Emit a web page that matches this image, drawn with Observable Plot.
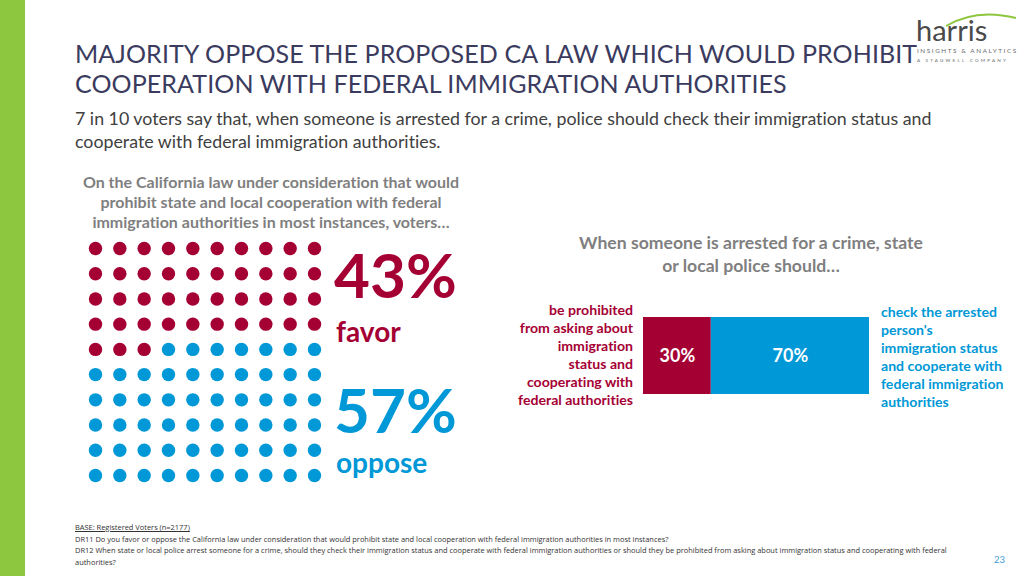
<!DOCTYPE html>
<html><head><meta charset="utf-8">
<script src="https://cdn.jsdelivr.net/npm/d3@7"></script>
<script src="https://cdn.jsdelivr.net/npm/@observablehq/plot@0.6"></script>
<style>
html,body{margin:0;padding:0;background:#fff;}
#page{position:relative;width:1024px;height:576px;overflow:hidden;font-family:Lato,"Open Sans",sans-serif;font-variant-ligatures:none;font-feature-settings:"liga" 0,"clig" 0;}
.abs{position:absolute;white-space:nowrap;}
#greenbar{left:0;top:0;width:25px;height:576px;background:#8DC63F;}
#title{left:75px;top:38px;font-size:25px;line-height:30px;color:#3A3B5E;letter-spacing:0.1px;}
#subtitle{left:75px;top:107px;font-size:17.8px;line-height:23px;color:#404040;}
#lefthead{left:60px;top:172px;width:422px;text-align:center;font-weight:bold;font-size:16px;line-height:20px;color:#7F7F7F;}
#righthead{left:552px;top:231px;width:398px;text-align:center;font-weight:bold;font-size:17.6px;line-height:23px;color:#7F7F7F;}
.big{font-weight:bold;font-size:62px;line-height:62px;}
.word{font-weight:bold;font-size:28px;line-height:30px;}
.red{color:#A50034;}
.blue{color:#0098D6;}
#leftlab{right:391px;top:301px;text-align:right;font-weight:bold;font-size:14.1px;line-height:18px;}
#rightlab{left:881px;top:303px;text-align:left;font-weight:bold;font-size:14.1px;line-height:18px;}
#foot{left:75px;top:522px;font-size:7.45px;line-height:11.5px;color:#333;font-family:"Open Sans",sans-serif;}
#pnum{left:994px;top:554px;font-size:9.5px;color:#3FA0D8;}
#logo{left:916px;top:6px;}
svg text{font-variant-ligatures:none;}
</style></head>
<body>
<div id="page">
  <div id="greenbar" class="abs"></div>
  <div id="logo" class="abs">
    <svg width="108" height="62" viewBox="0 0 108 62">
      <path d="M30 20 Q60 2 100 12" stroke="#8DC63F" stroke-width="2" fill="none"/>
      <text x="0" y="35" font-family="Lato,sans-serif" font-size="29" fill="#4a4a4a">harris</text>
      <text x="1" y="47" font-family="Lato,sans-serif" font-size="6.3" letter-spacing="1.6" fill="#6a6a6a">INSIGHTS &amp; ANALYTICS</text>
      <text x="1" y="56" font-family="Lato,sans-serif" font-size="4.6" letter-spacing="2.2" fill="#6a6a6a">A STAGWELL COMPANY</text>
    </svg>
  </div>
  <div id="title" class="abs">MAJORITY OPPOSE THE PROPOSED CA LAW WHICH WOULD PROHIBIT<br>COOPERATION WITH FEDERAL IMMIGRATION AUTHORITIES</div>
  <div id="subtitle" class="abs">7 in 10 voters say that, when someone is arrested for a crime, police should check their immigration status and<br>cooperate with federal immigration authorities.</div>
  <div id="lefthead" class="abs">On the California law under consideration that would<br>prohibit state and local cooperation with federal<br>immigration authorities in most instances, voters…</div>
  <div id="waffle" class="abs" style="left:83px;top:236px;"></div>
  <div id="favorPct" class="abs big red" style="left:334px;top:243px;"></div>
  <div id="favorWord" class="abs word red" style="left:336px;top:316px;"></div>
  <div id="opposePct" class="abs big blue" style="left:334px;top:378px;"></div>
  <div id="opposeWord" class="abs word blue" style="left:336px;top:447px;"></div>
  <div id="righthead" class="abs">When someone is arrested for a crime, state<br>or local police should…</div>
  <div id="leftlab" class="abs red"></div>
  <div id="bar" class="abs" style="left:643px;top:317px;"></div>
  <div id="rightlab" class="abs blue"></div>
  <div id="foot" class="abs"><span style="text-decoration:underline">BASE: Registered Voters (n=2177)</span><br>DR11 Do you favor or oppose the California law under consideration that would prohibit state and local cooperation with federal immigration authorities in most instances?<br>DR12 When state or local police arrest someone for a crime, should they check their immigration status and cooperate with federal immigration authorities or should they be prohibited from asking about immigration status and cooperating with federal<br>authorities?</div>
  <div id="pnum" class="abs">23</div>
</div>
<script>
// ---- data ----
const lawGroups = ["favor", "oppose"];
const lawValues = [43, 57];
const lawColors = ["#A50034", "#0098D6"];

const policeGroups = ["prohibited", "check"];
const policeValues = [30, 70];
const policeColors = ["#A50034", "#0098D6"];
const policeLabels = [
  "be prohibited\nfrom asking about\nimmigration\nstatus and\ncooperating with\nfederal authorities",
  "check the arrested\nperson's\nimmigration status\nand cooperate with\nfederal immigration\nauthorities"
];

// ---- waffle ----
const cells = d3.range(100).map(i => ({
  col: i % 10,
  row: Math.floor(i / 10),
  group: i < lawValues[0] ? lawGroups[0] : lawGroups[1]
}));
const waffle = Plot.plot({
  width: 243, height: 251,
  marginLeft: 12, marginRight: 12, marginTop: 12, marginBottom: 12,
  x: {domain: [0, 9], axis: null},
  y: {domain: [0, 9], axis: null, reverse: true},
  color: {domain: lawGroups, range: lawColors},
  marks: [
    Plot.dot(cells, {x: "col", y: "row", r: 6.7, fill: "group", stroke: null})
  ]
});
document.getElementById("waffle").appendChild(waffle);
document.getElementById("favorPct").textContent = lawValues[0] + "%";
document.getElementById("favorWord").textContent = lawGroups[0];
document.getElementById("opposePct").textContent = lawValues[1] + "%";
document.getElementById("opposeWord").textContent = lawGroups[1];

// ---- stacked bar ----
const policeData = policeGroups.map((g, i) => ({group: g, value: policeValues[i]}));
const bar = Plot.plot({
  width: 226, height: 77,
  margin: 0,
  x: {domain: [0, 100], axis: null},
  color: {domain: policeGroups, range: policeColors},
  marks: [
    Plot.barX(policeData, Plot.stackX({x: "value", fill: "group", order: policeGroups})),
    Plot.text(policeData, Plot.stackX({x: "value", z: "group", order: policeGroups, text: d => d.value + "%",
      fill: "white", fontWeight: "bold", fontSize: 18, fontFamily: "Lato, sans-serif"}))
  ]
});
document.getElementById("bar").appendChild(bar);
document.getElementById("leftlab").innerHTML = policeLabels[0].split("\n").join("<br>");
document.getElementById("rightlab").innerHTML = policeLabels[1].split("\n").join("<br>");
</script>
</body></html>
